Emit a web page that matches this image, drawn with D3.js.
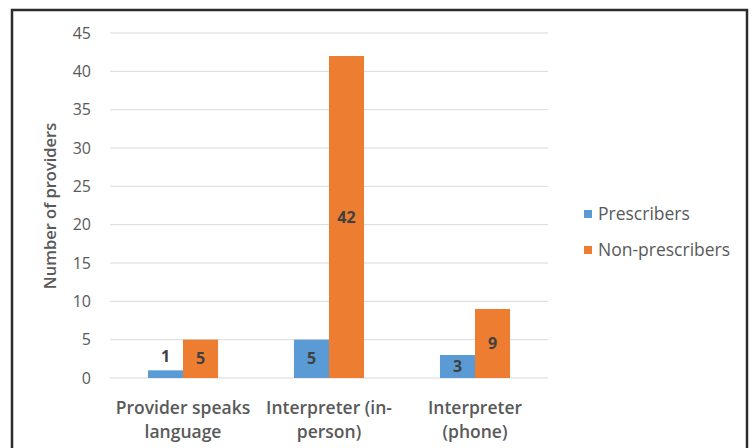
<!DOCTYPE html>
<html><head><meta charset="utf-8">
<script src="https://cdn.jsdelivr.net/npm/d3@7"></script>
<style>body{margin:0;background:#fff}svg{display:block}</style>
</head><body>
<svg id="c" width="752" height="448"></svg>
<script>
const categories = [["Provider speaks","language"],["Interpreter (in-","person)"],["Interpreter","(phone)"]];
const seriesNames = ["Prescribers","Non-prescribers"];
const prescribers = [1,5,3];
const nonPrescribers = [5,42,9];
const yTicks = [0,5,10,15,20,25,30,35,40,45];
const colors = ["#5B9BD5","#ED7D31"];

const svg = d3.select("#c");
const font = "'Open Sans', 'DejaVu Sans', sans-serif";
// frame
svg.append("rect").attr("x",12).attr("y",10).attr("width",735).attr("height",450)
  .attr("fill","#fff").attr("stroke","#2b2b2b").attr("stroke-width",2.5);

const x0 = d3.scaleBand().domain(d3.range(categories.length)).range([110,548]).paddingInner(0.52).paddingOuter(0.26);
const x1 = d3.scaleBand().domain([0,1]).range([0,x0.bandwidth()]);
const y = d3.scaleLinear().domain([0,45]).range([378,33]);

const g = svg.append("g");
g.selectAll("line.grid").data(yTicks).join("line")
  .attr("x1",110).attr("x2",548).attr("y1",d=>y(d)).attr("y2",d=>y(d))
  .attr("stroke","#d9d9d9").attr("stroke-width",1);
const yAxis = d3.axisLeft(y).tickValues(yTicks).tickSize(0).tickPadding(0);
const ya = svg.append("g").attr("transform","translate(91,0)").call(yAxis);
ya.select(".domain").remove();
ya.selectAll("text").attr("fill","#595959").style("font-family",font).style("font-size","16px");

const data = categories.map((c,i)=>[prescribers[i],nonPrescribers[i]]);
data.forEach((vals,i)=>{
  vals.forEach((v,s)=>{
    const bx = x0(i)+x1(s), bw = x1.bandwidth();
    svg.append("rect").attr("x",bx).attr("y",y(v)).attr("width",bw).attr("height",y(0)-y(v)).attr("fill",colors[s]);
    const h = y(0)-y(v);
    const ly = h < 20 ? y(v)-14 : (y(v)+y(0))/2;
    svg.append("text").attr("x",bx+bw/2).attr("y",ly).attr("dy","0.35em")
      .attr("text-anchor","middle").attr("fill","#404040").style("font-family",font)
      .style("font-size","16px").style("font-weight","bold").text(v);
  });
});

const xa = svg.append("g");
categories.forEach((lines,i)=>{
  const cx = x0(i)+x0.bandwidth()/2;
  lines.forEach((t,k)=>{
    xa.append("text").attr("x",cx).attr("y",408+k*24).attr("dy","0.35em").attr("text-anchor","middle")
      .attr("fill","#595959").style("font-family",font).style("font-size","17.5px").style("font-weight","600").text(t);
  });
});

svg.append("text").attr("transform","translate(50,206) rotate(-90)").attr("text-anchor","middle").attr("dy","0.35em")
  .attr("fill","#595959").style("font-family",font).style("font-size","16.5px").style("font-weight","600").text("Number of providers");

seriesNames.forEach((n,i)=>{
  const ly = 214 + i*36;
  svg.append("rect").attr("x",584).attr("y",ly-4).attr("width",8).attr("height",8).attr("fill",colors[i]);
  svg.append("text").attr("x",598).attr("y",ly).attr("dy","0.35em").attr("fill","#595959")
    .style("font-family",font).style("font-size","17.5px").text(n);
});
</script>
</body></html>
